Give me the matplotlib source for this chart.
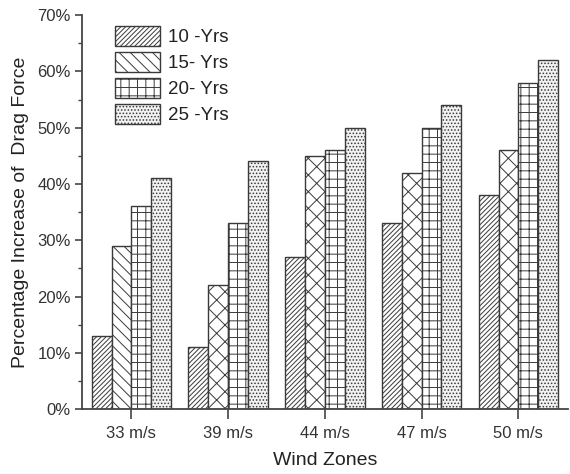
import matplotlib
matplotlib.use("Agg")
import matplotlib.pyplot as plt
import numpy as np
from matplotlib.ticker import MultipleLocator, PercentFormatter
from matplotlib.patches import Patch

plt.rcParams['font.family'] = ['Liberation Sans', 'DejaVu Sans']
plt.rcParams['hatch.linewidth'] = 0.7

categories = ["33 m/s", "39 m/s", "44 m/s", "47 m/s", "50 m/s"]
series_labels = ["10 -Yrs", "15- Yrs", "20- Yrs", "25 -Yrs"]
yrs10 = [13, 11, 27, 33, 38]
yrs15 = [29, 22, 45, 42, 46]
yrs20 = [36, 33, 46, 50, 58]
yrs25 = [41, 44, 50, 54, 62]
values = [yrs10, yrs15, yrs20, yrs25]

fig = plt.figure(figsize=(5.7, 4.74), dpi=100)
ax = fig.add_axes([0.144, 0.137, 0.852, 0.831])

edge = '#3a3a3a'
width = 0.205
x = np.arange(len(categories))
offsets = [-1.5, -0.5, 0.5, 1.5]
hatch_sets = [
    ['///////'] * 5,
    ['\\\\\\'] + ['xx'] * 4,
    ['++'] * 5,
    ['.....'] * 5,
]
faces = ['white', 'white', 'white', '#f2f2f2']
for i, vals in enumerate(values):
    bars = ax.bar(x + offsets[i] * width, vals, width, color=faces[i],
                  edgecolor=edge, linewidth=1.0, label=series_labels[i])
    for b, h in zip(bars, hatch_sets[i]):
        b.set_hatch(h)
        b.set_edgecolor(edge)

leg_handles = [
    Patch(facecolor=faces[0], edgecolor=edge, hatch='///////'),
    Patch(facecolor=faces[1], edgecolor=edge, hatch='\\\\\\'),
    Patch(facecolor=faces[2], edgecolor=edge, hatch='++'),
    Patch(facecolor=faces[3], edgecolor=edge, hatch='.....'),
]
leg = ax.legend(leg_handles, series_labels, loc='upper left',
                bbox_to_anchor=(0.037, 1.01), frameon=False, fontsize=13.5,
                handlelength=2.4, handleheight=1.25, labelspacing=0.3,
                handletextpad=0.4, borderaxespad=0.4)
for t in leg.get_texts():
    t.set_color('#222222')

ax.set_xlim(-0.51, 4.51)
ax.set_ylim(0, 70)
ax.set_xticks(x)
ax.set_xticklabels(categories)
ax.yaxis.set_major_locator(MultipleLocator(10))
ax.yaxis.set_minor_locator(MultipleLocator(5))
ax.yaxis.set_major_formatter(PercentFormatter(decimals=0))

for s in ['top', 'right']:
    ax.spines[s].set_visible(False)
for s in ['left', 'bottom']:
    ax.spines[s].set_linewidth(1.3)
    ax.spines[s].set_color('#444444')

ax.tick_params(axis='y', which='major', length=5, width=1.2, labelsize=12,
               colors='#444444', labelcolor='#333333', pad=3)
ax.tick_params(axis='y', which='minor', length=3, width=1.0, colors='#444444')
ax.tick_params(axis='x', which='major', length=7, width=1.2, labelsize=12,
               colors='#444444', labelcolor='#333333', pad=5)

ax.set_xlabel('Wind Zones', fontsize=14, color='#222222', labelpad=8)
ax.set_ylabel('Percentage Increase of  Drag Force', fontsize=14,
              color='#222222', labelpad=6)

fig.savefig('out.png', dpi=100)
